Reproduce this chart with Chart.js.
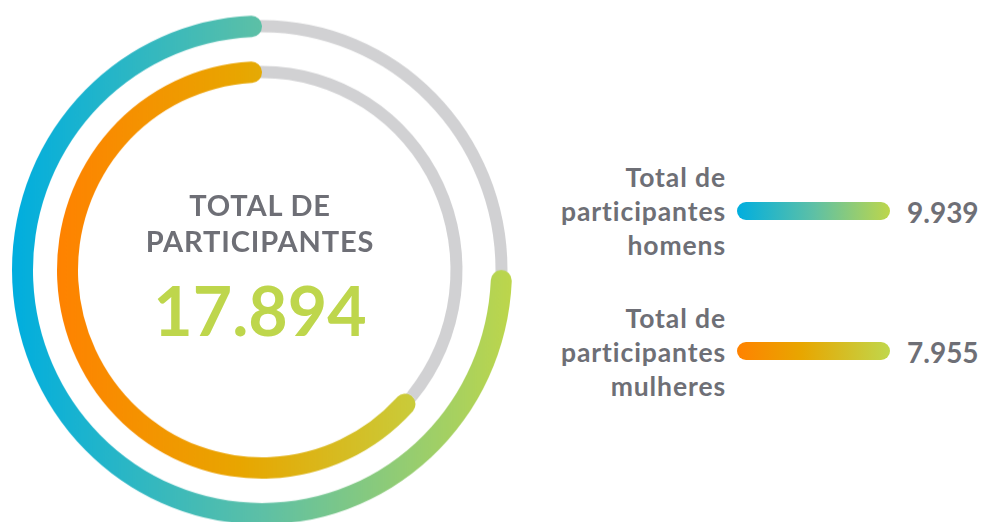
<!DOCTYPE html>
<html lang="pt-BR">
<head>
<meta charset="utf-8">
<script src="https://cdn.jsdelivr.net/npm/chart.js@4.4.1/dist/chart.umd.min.js"></script>
<style>
    html, body { margin: 0; padding: 0; background: #fff; }
    body { width: 981px; height: 522px; position: relative; overflow: hidden; font-family: 'Lato', 'Open Sans', sans-serif; font-weight: 700; color: #6E6F76; }
    #aneis { position: absolute; left: 12px; top: 19.5px; width: 500px; height: 500px; transform: scaleY(1.018); transform-origin: 50% 50%; }
    #aneis canvas { position: absolute; left: 0; top: 0; }
    .centro { position: absolute; left: 0; width: 520px; text-align: center; white-space: nowrap; }
    .titulo { top: 186.8px; font-size: 29px; line-height: 36px; letter-spacing: 0.85px; }
    .total { top: 275.7px; font-size: 68px; line-height: 68px; color: #BED64C; }
    .rotulo { position: absolute; right: 255px; font-size: 26.5px; line-height: 34px; letter-spacing: 0.9px; text-align: right; white-space: nowrap; }
    .barra { position: absolute; left: 737px; width: 153px; height: 17.5px; border-radius: 9px; }
    .valor { position: absolute; left: 907px; font-size: 28px; line-height: 34px; white-space: nowrap; }
</style>
</head>
<body>
    <div id="aneis">
        <canvas id="graficoFundo" width="500" height="500"></canvas>
        <canvas id="graficoAneis" width="500" height="500"></canvas>
    </div>

    <div class="centro titulo">TOTAL DE<br>PARTICIPANTES</div>
    <div class="centro total" id="totalGeral"></div>

    <div id="legenda"></div>

<script>
    // Dados
    const categorias = ['Total de participantes homens', 'Total de participantes mulheres'];
    const totais = [9939, 7955];
    const totalGeral = 17894;
    // Parte de cada anel que aparece preenchida (%)
    const preenchimento = [75, 64];

    const coresGradiente = [
        ['#00AEDF', '#5DC0A6', '#BDD64B'],
        ['#FF8200', '#E8A600', '#C0D74C']
    ];
    const corTrilho = '#D1D1D3';

    const formatar = n => String(n).replace(/\B(?=(\d{3})+(?!\d))/g, '.');

    // Textos
    document.getElementById('totalGeral').textContent = formatar(totalGeral);

    const legenda = document.getElementById('legenda');
    const topos = [160, 301];
    const toposBarra = [202.3, 342.3];
    const toposValor = [195.2, 334.9];
    categorias.forEach((cat, i) => {
        const partes = cat.split(' ');
        const rotulo = document.createElement('div');
        rotulo.className = 'rotulo';
        rotulo.style.top = topos[i] + 'px';
        rotulo.innerHTML = partes.slice(0, 2).join(' ') + '<br>' + partes[2] + '<br>' + partes[3];
        legenda.appendChild(rotulo);

        const barra = document.createElement('div');
        barra.className = 'barra';
        barra.style.top = toposBarra[i] + 'px';
        const c = coresGradiente[i];
        barra.style.background = `linear-gradient(to right, ${c[0]} 0%, ${c[1]} ${i === 0 ? 50 : 42}%, ${c[2]} 100%)`;
        legenda.appendChild(barra);

        const valor = document.createElement('div');
        valor.className = 'valor';
        valor.style.top = toposValor[i] + 'px';
        valor.textContent = formatar(totais[i]);
        legenda.appendChild(valor);
    });

    // Gradiente horizontal que cobre o anel inteiro
    function gradienteAnel(context, indiceCor) {
        const chart = context.chart;
        const area = chart.chartArea;
        if (!area) return coresGradiente[indiceCor][0];
        const controller = chart.getDatasetMeta(context.datasetIndex).controller;
        const cx = (area.left + area.right) / 2;
        const r = controller.outerRadius || (area.right - area.left) / 2;
        const g = chart.ctx.createLinearGradient(cx - r, 0, cx + r, 0);
        const c = coresGradiente[indiceCor];
        g.addColorStop(0, c[0]);
        g.addColorStop(indiceCor === 0 ? 0.5 : 0.45, c[1]);
        g.addColorStop(1, c[2]);
        return g;
    }

    const opcoesBase = {
        responsive: false,
        animation: false,
        events: [],
        plugins: {
            legend: { display: false },
            tooltip: { enabled: false }
        }
    };

    const arcoBase = {
        borderWidth: 0,
        hoverBorderWidth: 0,
        offset: 0,
        hoverOffset: 0,
        rotation: 0,
        circumference: 360
    };

    window.addEventListener('DOMContentLoaded', () => {
        // Trilho cinza (anel fino por baixo)
        new Chart(document.getElementById('graficoFundo'), {
            type: 'doughnut',
            data: {
                labels: ['restante', 'preenchido'],
                datasets: [
                    { ...arcoBase, data: [100 - preenchimento[0], preenchimento[0]], backgroundColor: corTrilho, weight: 12 },
                    { ...arcoBase, data: [1], backgroundColor: 'rgba(0,0,0,0)', weight: 33 },
                    { ...arcoBase, data: [100 - preenchimento[1], preenchimento[1]], backgroundColor: corTrilho, weight: 12 }
                ]
            },
            options: {
                ...opcoesBase,
                cutout: (188.5 / 245.5 * 100) + '%',
                layout: { padding: 4.5 }
            }
        });

        // Arcos coloridos
        new Chart(document.getElementById('graficoAneis'), {
            type: 'doughnut',
            data: {
                labels: ['restante', 'preenchido'],
                datasets: [
                    {
                        ...arcoBase,
                        label: categorias[0],
                        data: [100 - preenchimento[0], preenchimento[0]],
                        backgroundColor: ctx => ctx.dataIndex === 1 ? gradienteAnel(ctx, 0) : 'rgba(0,0,0,0)',
                        borderRadius: [0, 11],
                        weight: 21
                    },
                    { ...arcoBase, data: [1], backgroundColor: 'rgba(0,0,0,0)', weight: 24 },
                    {
                        ...arcoBase,
                        label: categorias[1],
                        data: [100 - preenchimento[1], preenchimento[1]],
                        backgroundColor: ctx => ctx.dataIndex === 1 ? gradienteAnel(ctx, 1) : 'rgba(0,0,0,0)',
                        borderRadius: [0, 11],
                        weight: 21
                    }
                ]
            },
            options: {
                ...opcoesBase,
                cutout: (184 / 250 * 100) + '%'
            }
        });
    });
</script>
</body>
</html>
